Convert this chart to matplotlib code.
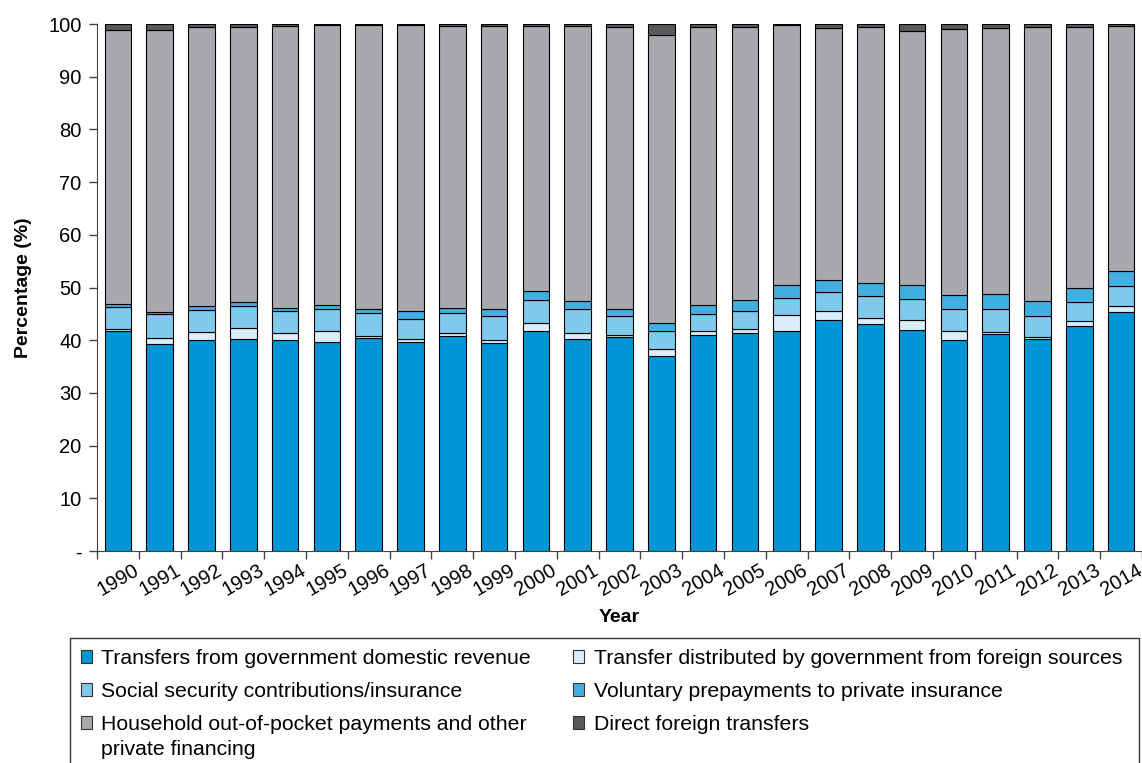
import numpy as np
import matplotlib.pyplot as plt
from matplotlib.patches import Rectangle, Patch

plt.rcParams['font.family'] = ['Liberation Sans', 'DejaVu Sans']

years = [str(y) for y in range(1990, 2015)]

gov_domestic = [41.7, 39.2, 40.0, 40.2, 40.1, 39.7, 40.4, 39.7, 40.8, 39.5, 41.8, 40.3, 40.6,
                37.0, 41.0, 41.3, 41.7, 43.9, 43.0, 42.0, 40.0, 41.1, 40.3, 42.6, 45.4]
gov_foreign = [0.4, 1.3, 1.6, 2.2, 1.2, 2.1, 0.4, 0.5, 0.5, 0.5, 1.4, 1.1, 0.3,
               1.3, 0.7, 0.9, 3.1, 1.6, 1.2, 1.8, 1.7, 0.5, 0.4, 1.0, 1.1]
social_security = [4.2, 4.4, 4.1, 4.1, 4.2, 4.1, 4.4, 3.9, 3.8, 4.5, 4.4, 4.5, 3.6,
                   3.4, 3.2, 3.3, 3.2, 3.6, 4.1, 4.0, 4.2, 4.4, 3.9, 3.7, 3.8]
voluntary = [0.6, 0.4, 0.7, 0.7, 0.7, 0.8, 0.8, 1.4, 1.1, 1.5, 1.7, 1.5, 1.5,
             1.5, 1.7, 2.1, 2.4, 2.4, 2.5, 2.7, 2.6, 2.7, 2.8, 2.6, 2.8]
household = [52.0, 53.5, 53.0, 52.3, 53.5, 53.05, 53.8, 54.3, 53.4, 53.6, 50.4, 52.2, 53.5,
             54.8, 52.8, 51.8, 49.4, 47.8, 48.6, 48.2, 50.6, 50.5, 52.0, 49.5, 46.5]
direct_foreign = [1.1, 1.2, 0.6, 0.5, 0.3, 0.25, 0.2, 0.2, 0.4, 0.4, 0.3, 0.4, 0.5,
                  2.0, 0.6, 0.6, 0.2, 0.7, 0.6, 1.3, 0.9, 0.8, 0.6, 0.6, 0.4]

series = [
    ("Transfers from government domestic revenue", gov_domestic, "#0096d6"),
    ("Transfer distributed by government from foreign sources", gov_foreign, "#d9eef9"),
    ("Social security contributions/insurance", social_security, "#80c9eb"),
    ("Voluntary prepayments to private insurance", voluntary, "#41b0e1"),
    ("Household out-of-pocket payments and other", household, "#a8a9ad"),
    ("Direct foreign transfers", direct_foreign, "#58595b"),
]

W, H = 1142, 763
fig = plt.figure(figsize=(W / 100, H / 100), dpi=100)
ax = fig.add_axes([97 / W, 1 - 551 / H, 1 - 97 / W, (551 - 24) / H])

x = np.arange(len(years))
bottom = np.zeros(len(years))
handles = {}
for label, vals, color in series:
    vals = np.array(vals)
    ax.bar(x, vals, 0.64, bottom=bottom, color=color, edgecolor="black", linewidth=0.8)
    handles[label] = Patch(facecolor=color, edgecolor="#333333", linewidth=0.8)
    bottom += vals

ax.set_xlim(-0.46, 24.3)
ax.set_ylim(0, 100)
ax.set_yticks(np.arange(0, 101, 10))
ax.set_yticklabels(["-"] + [str(v) for v in range(10, 101, 10)], fontsize=14.5)
ax.set_xticks(x)
ax.set_xticklabels(years, rotation=30, fontsize=14.5, ha="center")
ax.set_xticks(np.arange(-0.5, 24.6, 1), minor=True)
ax.tick_params(axis="x", which="major", length=0, pad=7)
ax.tick_params(axis="x", which="minor", length=6, width=1, color="#444444")
ax.tick_params(axis="y", length=6, width=1, pad=5, color="#444444")
for s in ["top", "right"]:
    ax.spines[s].set_visible(False)
ax.spines["left"].set_color("#444444")
ax.spines["bottom"].set_color("#444444")

ax.set_ylabel("Percentage (%)", fontsize=14, fontweight="bold", labelpad=12)
ax.set_xlabel("Year", fontsize=14, fontweight="bold", labelpad=7)

order = [series[0][0], series[2][0], series[4][0], series[1][0], series[3][0], series[5][0]]
leg = fig.legend([handles[k] for k in order], order, loc="upper left",
                 bbox_to_anchor=(81 / W, 1 - 649 / H), ncol=2, frameon=False,
                 fontsize=15.3, handlelength=0.5, handleheight=0.5, handletextpad=0.45,
                 columnspacing=2.0, labelspacing=0.66, borderaxespad=0, borderpad=0)

# second line of the wrapped household label
fig.canvas.draw()
renderer = fig.canvas.get_renderer()
hh = [t for t in leg.get_texts() if t.get_text().startswith("Household")][0]
bb = hh.get_window_extent(renderer)
fig.text(bb.x0 / W, (bb.y0 - 25) / H, "private financing", fontsize=15.3, va="bottom", ha="left")

fig.add_artist(Rectangle((70 / W, -0.05), (1139 - 70) / W, (H - 638) / H + 0.05,
                         transform=fig.transFigure, fill=False, edgecolor="#333333", linewidth=1))

fig.savefig("out.png", dpi=100)
